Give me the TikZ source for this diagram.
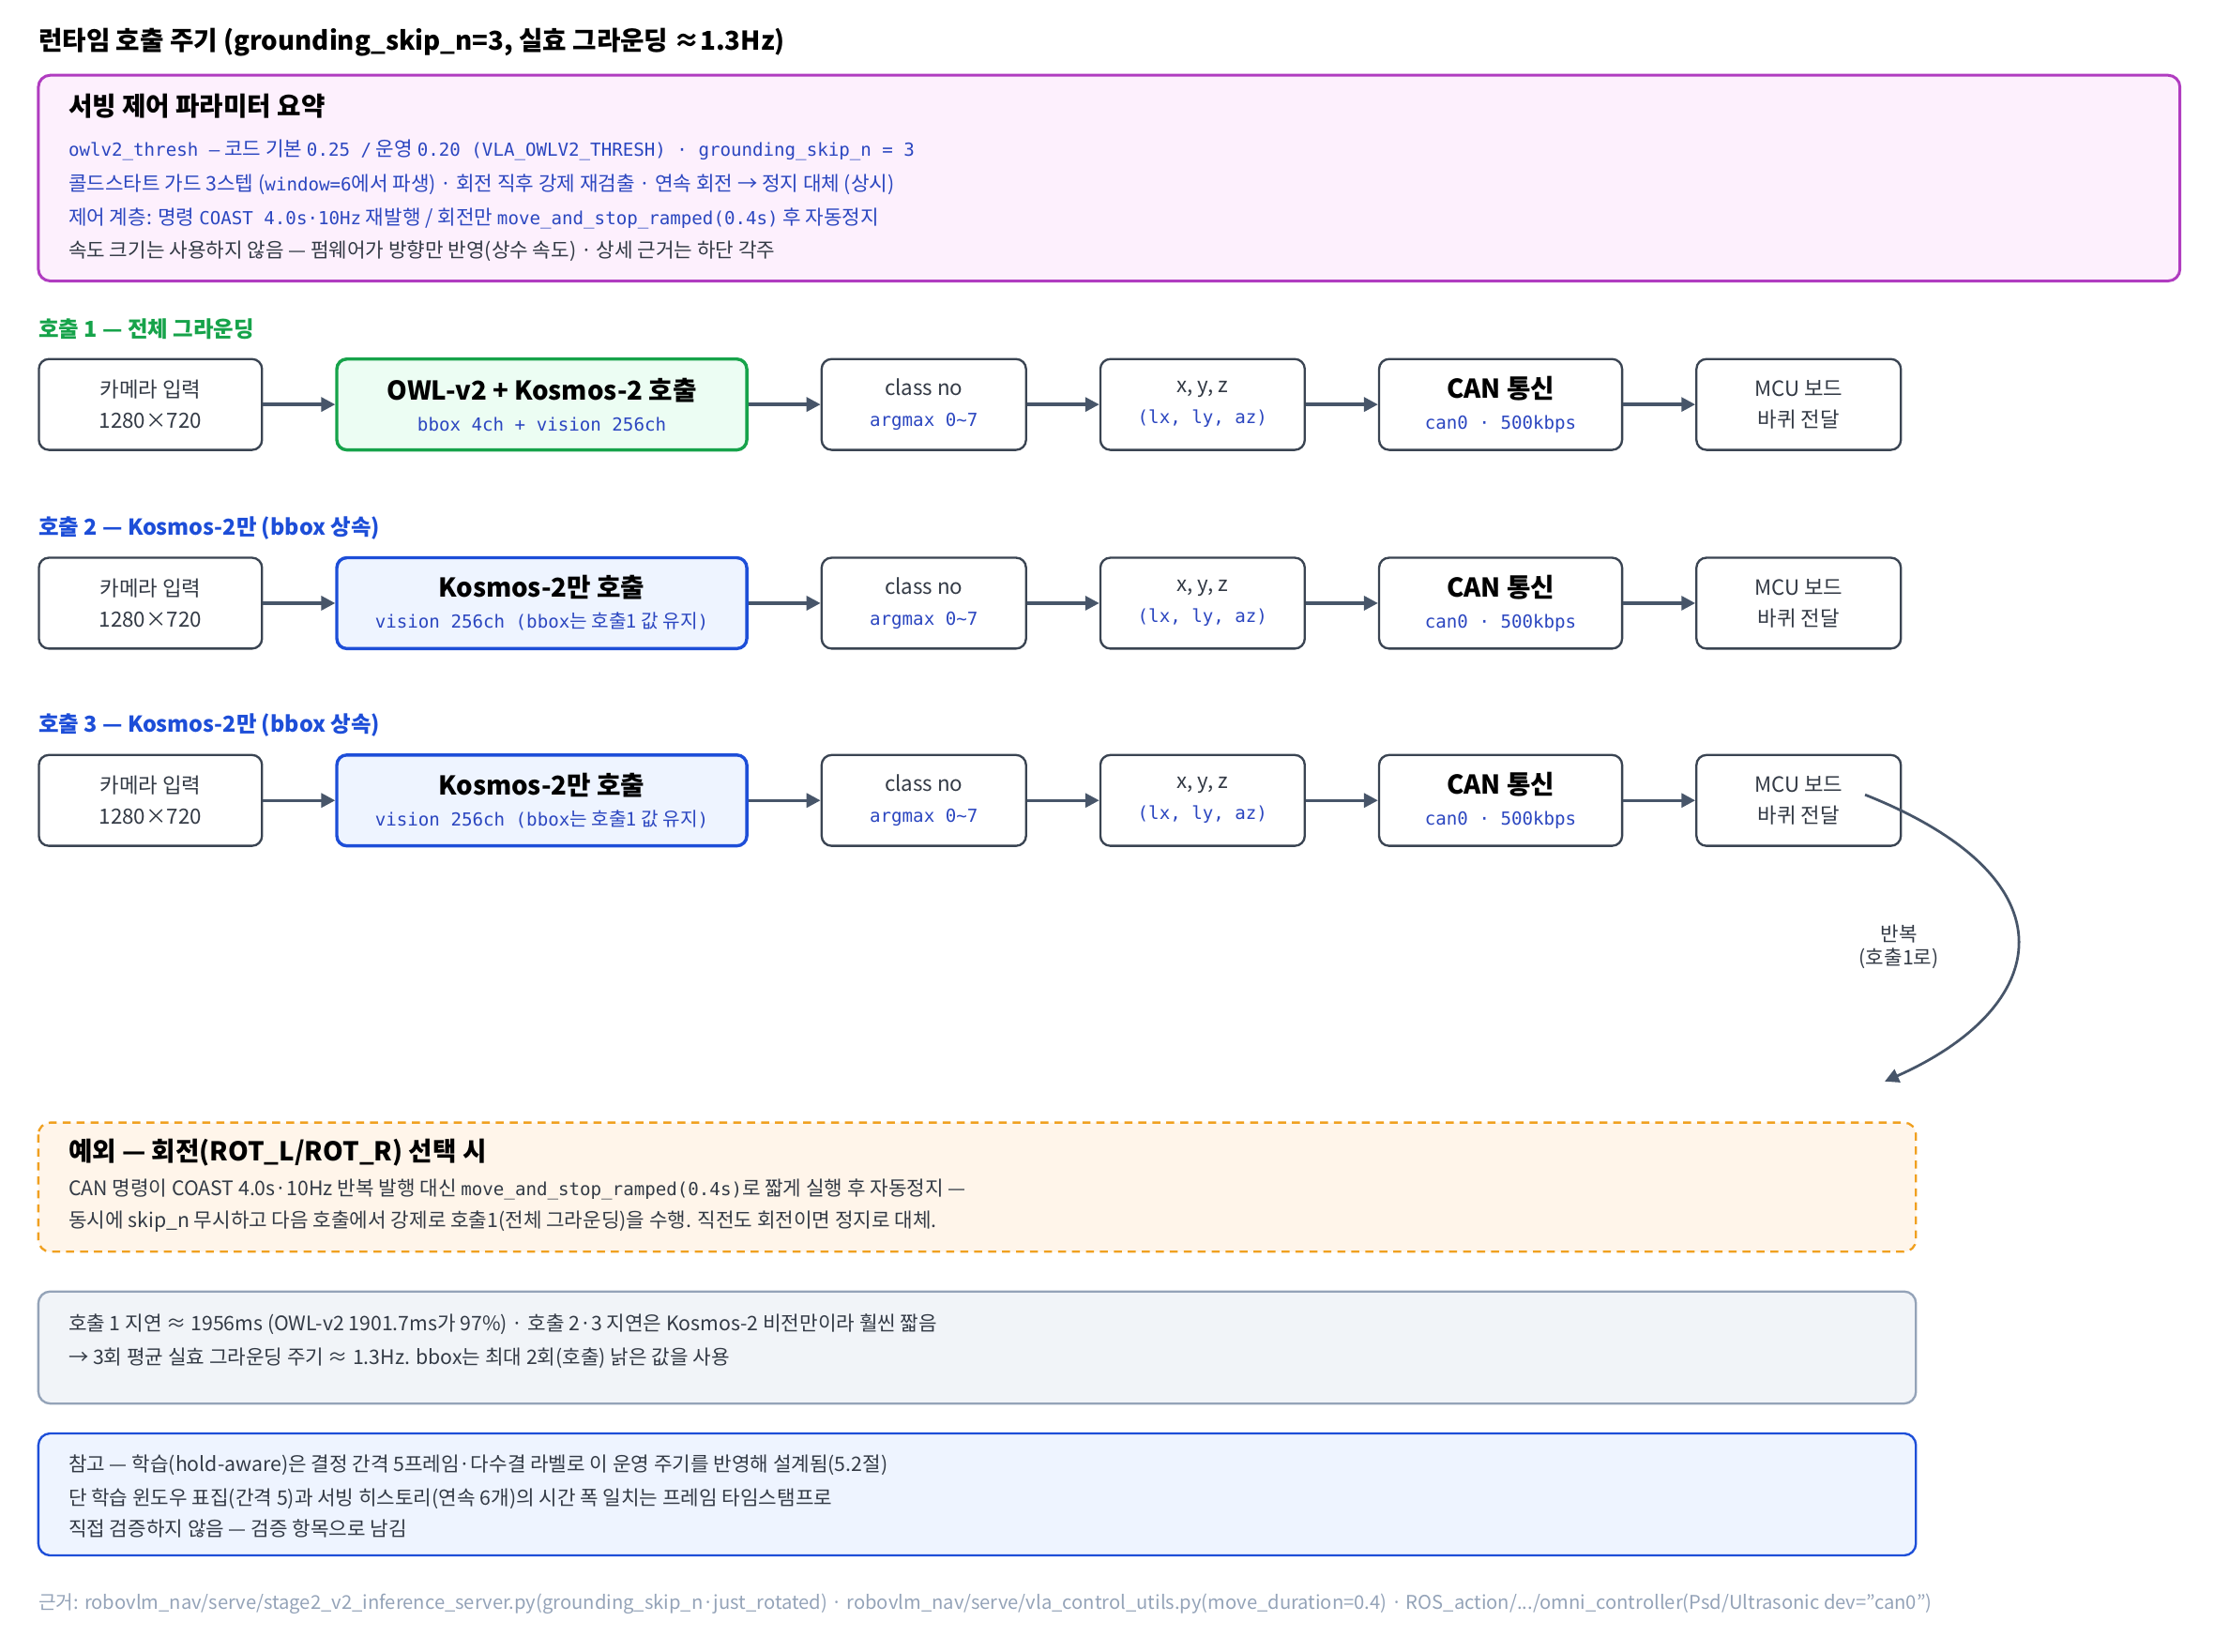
\documentclass[tikz,border=0pt]{standalone}
\usepackage{fontspec}
\setmainfont{Noto Sans CJK KR}
\setmonofont{DejaVu Sans Mono}
\usetikzlibrary{positioning, arrows.meta, calc}
\definecolor{ink}{HTML}{333A45}
\definecolor{edge}{HTML}{3A4452}
\definecolor{arr}{HTML}{475569}
\definecolor{code}{HTML}{2B46C0}
\definecolor{okgreen}{HTML}{16A34A}
\definecolor{okfill}{HTML}{ECFDF3}
\definecolor{callblue}{HTML}{1D4ED8}
\definecolor{callfill}{HTML}{EEF4FF}
\definecolor{sumdraw}{HTML}{B03CC0}
\definecolor{sumfill}{HTML}{FDF0FD}
\definecolor{excdraw}{HTML}{F0A020}
\definecolor{excfill}{HTML}{FFF5EA}
\definecolor{notedraw}{HTML}{94A3B8}
\definecolor{notefill}{HTML}{F1F4F8}
\definecolor{foot}{HTML}{94A3B8}
\newcommand{\cd}[1]{{\ttfamily\fontsize{9}{10}\selectfont #1}}
\newcommand{\sub}[1]{{\color{code}\ttfamily\fontsize{9}{10}\selectfont #1}}
\newcommand{\stagehead}[1]{{\bfseries\fontsize{13}{15}\selectfont\color{black} #1}}
\tikzset{
	stage/.style={draw=edge, rectangle, rounded corners=5pt, line width=1.1pt, fill=white,
		minimum height=1.6cm, inner sep=2pt, align=center, text=ink,
		font=\fontsize{10.5}{15.6}\selectfont},
	okcall/.style={stage, draw=okgreen, fill=okfill, line width=1.6pt},
	kcall/.style={stage, draw=callblue, fill=callfill, line width=1.6pt},
	panel/.style={rectangle, rounded corners=6pt, line width=1.1pt},
	txt/.style={anchor=west, inner sep=0pt, text=ink, font=\fontsize{10}{12}\selectfont},
	flow/.style={-{Triangle[length=7pt,width=7pt]}, arr, line width=1.6pt},
}
\begin{document}
\begin{tikzpicture}[x=0.025cm, y=-0.025cm, node distance=1.27cm]
	\useasboundingbox (0,0) rectangle (1560,1164);
	\node (title) [anchor=west, inner sep=0pt, font=\bfseries\fontsize{13}{15}\selectfont] at (27,30) {런타임 호출 주기 (grounding\_skip\_n=3, 실효 그라운딩 ≈1.3Hz)};

	% summary panel
	\draw[panel, draw=sumdraw, fill=sumfill, line width=1.4pt] (27,53) rectangle (1536,198);
	\node (sumhead) [txt, font=\bfseries\fontsize{13}{15}\selectfont, text=black] at (48,75) {서빙 제어 파라미터 요약};
	\node (sum1) [txt, text=code] at (48,106) {\cd{owlv2\_thresh —} 코드 기본 \cd{0.25 /} 운영 \cd{0.20 (VLA\_OWLV2\_THRESH) · grounding\_skip\_n = 3}};
	\node (sum2) [txt, text=code] at (48,130) {콜드스타트 가드 3스텝 (\cd{window=6}에서 파생) · 회전 직후 강제 재검출 · 연속 회전 → 정지 대체 (상시)};
	\node (sum3) [txt, text=code] at (48,154) {제어 계층: 명령 \cd{COAST 4.0s·10Hz} 재발행 / 회전만 \cd{move\_and\_stop\_ramped(0.4s)} 후 자동정지};
	\node (sum4) [txt] at (48,177) {속도 크기는 사용하지 않음 — 펌웨어가 방향만 반영(상수 속도) · 상세 근거는 하단 각주};

	% three call rows
	\foreach \r/\y/\lab/\lc/\cs/\ct/\cb in {
		1/285/{호출 1 — 전체 그라운딩}/okgreen/okcall/{OWL-v2 + Kosmos-2 호출}/{\sub{bbox 4ch + vision 256ch}},
		2/425/{호출 2 — Kosmos-2만 (bbox 상속)}/callblue/kcall/{Kosmos-2만 호출}/{\sub{vision 256ch (bbox}{\color{code}\fontsize{9.5}{10}\selectfont 는 호출1 값 유지}\sub{)}},
		3/564/{호출 3 — Kosmos-2만 (bbox 상속)}/callblue/kcall/{Kosmos-2만 호출}/{\sub{vision 256ch (bbox}{\color{code}\fontsize{9.5}{10}\selectfont 는 호출1 값 유지}\sub{)}}} {
		\node (lab\r) [txt, text=\lc, font=\bfseries\fontsize{11}{13}\selectfont] at (27,\y-53) {\lab};
		\node (cam\r) [stage, minimum width=3.93cm] at (106,\y) {카메라 입력\\1280×720};
		\node (call\r) [\cs, minimum width=7.22cm, right=of cam\r] {\stagehead{\ct}\\\cb};
		\node (cls\r) [stage, minimum width=3.6cm, right=of call\r] {class no\\\sub{argmax 0\textasciitilde7}};
		\node (xyz\r) [stage, minimum width=3.6cm, right=of cls\r] {x, y, z\\\sub{(lx, ly, az)}};
		\node (can\r) [stage, minimum width=4.28cm, right=of xyz\r] {\stagehead{CAN 통신}\\\sub{can0 · 500kbps}};
		\node (mcu\r) [stage, minimum width=3.6cm, right=of can\r] {MCU 보드\\바퀴 전달};
		\draw[flow] (cam\r) -- (call\r);
		\draw[flow] (call\r) -- (cls\r);
		\draw[flow] (cls\r) -- (xyz\r);
		\draw[flow] (xyz\r) -- (can\r);
		\draw[flow] (can\r) -- (mcu\r);
	}

	% loop back
	\coordinate (loopend) at (1328,762);
	\draw[flow, line width=1.3pt] ([xshift=-0.65cm, yshift=0.1cm]mcu3.east) .. controls (1465,620) and (1445,710) .. (loopend);
	\node (looplab) [align=center, text=ink, font=\fontsize{10}{12}\selectfont] at (1338,667) {반복\\(호출1로)};

	% exception
	\draw[panel, draw=excdraw, fill=excfill, dashed, dash pattern=on 4pt off 3pt] (27,791) rectangle (1350,882);
	\node (exchead) [txt, text=black, font=\bfseries\fontsize{13}{15}\selectfont] at (48,812) {예외 — 회전(ROT\_L/ROT\_R) 선택 시};
	\node (exc1) [txt] at (48,838) {CAN 명령이 COAST 4.0s·10Hz 반복 발행 대신 \cd{move\_and\_stop\_ramped(0.4s)}로 짧게 실행 후 자동정지 —};
	\node (exc2) [txt] at (48,861) {동시에 skip\_n 무시하고 다음 호출에서 강제로 호출1(전체 그라운딩)을 수행. 직전도 회전이면 정지로 대체.};

	% latency note
	\draw[panel, draw=notedraw, fill=notefill] (27,910) rectangle (1350,989);
	\node (lat1) [txt] at (48,933) {호출 1 지연 ≈ 1956ms (OWL-v2 1901.7ms가 97\%) · 호출 2·3 지연은 Kosmos-2 비전만이라 훨씬 짧음};
	\node (lat2) [txt] at (48,957) {→ 3회 평균 실효 그라운딩 주기 ≈ 1.3Hz. bbox는 최대 2회(호출) 낡은 값을 사용};

	% reference note
	\draw[panel, draw=callblue, fill=callfill] (27,1010) rectangle (1350,1096);
	\node (ref1) [txt] at (48,1032) {참고 — 학습(hold-aware)은 결정 간격 5프레임·다수결 라벨로 이 운영 주기를 반영해 설계됨(5.2절)};
	\node (ref2) [txt] at (48,1056) {단 학습 윈도우 표집(간격 5)과 서빙 히스토리(연속 6개)의 시간 폭 일치는 프레임 타임스탬프로};
	\node (ref3) [txt] at (48,1077) {직접 검증하지 않음 — 검증 항목으로 남김};

	\node (foot) [txt, text=foot, font=\fontsize{9.5}{11}\selectfont] at (27,1130) {근거: robovlm\_nav/serve/stage2\_v2\_inference\_server.py(grounding\_skip\_n·just\_rotated) · robovlm\_nav/serve/vla\_control\_utils.py(move\_duration=0.4) · ROS\_action/.../omni\_controller(Psd/Ultrasonic dev="can0")};
\end{tikzpicture}
\end{document}
